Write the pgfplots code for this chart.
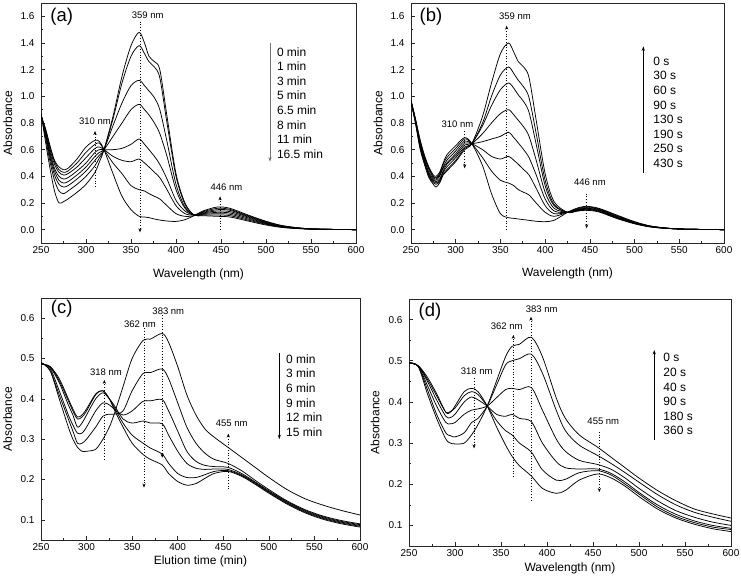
\documentclass[border=0pt]{standalone}
\usepackage{fontspec}
\setmainfont{Liberation Sans}
\usepackage{pgfplots}
\usepackage{pgfplotstable}
\pgfplotsset{compat=1.18}
\usetikzlibrary{arrows.meta}

\pgfplotstableread{
x c0 c1 c2 c3 c4 c5 c6 c7
250 0.87 0.87 0.865 0.865 0.86 0.86 0.855 0.855
255 0.66 0.69 0.71 0.72 0.73 0.74 0.75 0.76
260 0.46 0.51 0.54 0.56 0.58 0.60 0.62 0.63
265 0.29 0.37 0.41 0.44 0.46 0.49 0.51 0.52
270 0.20 0.29 0.34 0.37 0.40 0.43 0.45 0.47
275 0.21 0.27 0.32 0.35 0.38 0.41 0.43 0.45
280 0.23 0.29 0.33 0.36 0.39 0.42 0.44 0.46
290 0.28 0.34 0.38 0.41 0.44 0.47 0.50 0.53
300 0.34 0.40 0.44 0.47 0.50 0.54 0.58 0.62
310 0.43 0.48 0.52 0.55 0.58 0.61 0.64 0.67
315 0.51 0.54 0.56 0.58 0.60 0.62 0.65 0.66
320 0.60 0.60 0.60 0.60 0.60 0.60 0.60 0.60
330 0.85 0.83 0.78 0.70 0.60 0.55 0.50 0.42
340 1.15 1.10 0.95 0.80 0.61 0.52 0.42 0.25
350 1.38 1.30 1.08 0.90 0.64 0.51 0.33 0.15
359 1.48 1.38 1.12 0.94 0.68 0.53 0.30 0.10
365 1.40 1.32 1.08 0.90 0.64 0.50 0.29 0.095
370 1.30 1.26 1.04 0.86 0.60 0.47 0.27 0.09
376 1.26 1.22 0.99 0.80 0.55 0.43 0.25 0.08
382 1.20 1.14 0.90 0.72 0.49 0.39 0.23 0.072
390 0.85 0.80 0.66 0.55 0.38 0.30 0.18 0.065
400 0.42 0.40 0.34 0.30 0.22 0.18 0.12 0.062
410 0.20 0.19 0.17 0.16 0.14 0.12 0.10 0.075
420 0.11 0.11 0.11 0.11 0.11 0.11 0.105 0.105
430 0.105 0.11 0.115 0.12 0.125 0.13 0.135 0.14
446 0.10 0.11 0.12 0.13 0.14 0.15 0.16 0.17
460 0.095 0.105 0.115 0.125 0.135 0.145 0.152 0.16
480 0.065 0.072 0.08 0.088 0.095 0.10 0.105 0.11
500 0.035 0.04 0.044 0.048 0.052 0.056 0.06 0.063
520 0.015 0.017 0.019 0.021 0.023 0.025 0.027 0.028
550 0.004 0.004 0.005 0.005 0.005 0.006 0.006 0.006
600 0 0 0 0 0 0 0 0
}\tabA

\pgfplotstableread{
x c0 c1 c2 c3 c4 c5 c6 c7
250 0.97 0.97 0.965 0.965 0.96 0.96 0.955 0.955
255 0.83 0.83 0.82 0.82 0.81 0.81 0.80 0.80
260 0.68 0.67 0.66 0.65 0.64 0.63 0.62 0.61
265 0.56 0.55 0.54 0.53 0.52 0.51 0.50 0.49
270 0.47 0.46 0.45 0.43 0.42 0.41 0.40 0.39
275 0.41 0.40 0.39 0.38 0.37 0.36 0.35 0.34
278 0.40 0.39 0.38 0.37 0.36 0.35 0.34 0.32
282 0.43 0.42 0.41 0.40 0.38 0.37 0.36 0.35
286 0.50 0.49 0.47 0.46 0.44 0.43 0.42 0.41
290 0.56 0.54 0.52 0.50 0.49 0.47 0.45 0.44
300 0.63 0.61 0.59 0.57 0.555 0.54 0.52 0.51
310 0.69 0.68 0.665 0.65 0.635 0.62 0.61 0.60
318 0.645 0.645 0.645 0.645 0.645 0.645 0.645 0.645
330 0.48 0.54 0.60 0.66 0.72 0.78 0.80 0.85
340 0.27 0.44 0.55 0.68 0.80 0.93 1.00 1.10
350 0.12 0.37 0.53 0.70 0.87 1.05 1.16 1.32
359 0.09 0.35 0.55 0.73 0.90 1.10 1.22 1.40
365 0.085 0.33 0.52 0.69 0.86 1.06 1.17 1.33
370 0.08 0.30 0.49 0.65 0.82 1.01 1.12 1.26
376 0.075 0.28 0.45 0.60 0.77 0.96 1.07 1.22
382 0.07 0.26 0.41 0.54 0.70 0.88 0.99 1.14
390 0.063 0.20 0.31 0.41 0.52 0.64 0.72 0.82
400 0.06 0.13 0.18 0.23 0.28 0.33 0.37 0.42
410 0.07 0.10 0.12 0.14 0.16 0.18 0.19 0.21
425 0.13 0.13 0.13 0.13 0.13 0.13 0.13 0.13
435 0.16 0.155 0.15 0.148 0.145 0.143 0.14 0.138
446 0.175 0.17 0.165 0.16 0.157 0.153 0.15 0.145
460 0.16 0.156 0.152 0.148 0.144 0.14 0.137 0.133
480 0.11 0.105 0.10 0.097 0.094 0.09 0.087 0.084
500 0.06 0.057 0.054 0.052 0.05 0.048 0.046 0.044
520 0.025 0.024 0.023 0.022 0.021 0.02 0.019 0.018
550 0.005 0.005 0.005 0.005 0.005 0.005 0.005 0.005
600 0 0 0 0 0 0 0 0
}\tabB

\pgfplotstableread{
x c0 c1 c2 c3 c4 c5
250 0.49 0.49 0.488 0.488 0.486 0.486
260 0.47 0.47 0.475 0.478 0.48 0.48
270 0.40 0.41 0.42 0.44 0.445 0.45
280 0.33 0.35 0.36 0.385 0.395 0.40
285 0.30 0.32 0.335 0.36 0.37 0.375
290 0.28 0.29 0.315 0.33 0.35 0.355
295 0.27 0.29 0.315 0.34 0.355 0.36
300 0.27 0.30 0.33 0.36 0.37 0.375
310 0.275 0.33 0.37 0.40 0.41 0.412
318 0.30 0.357 0.39 0.415 0.42 0.42
325 0.33 0.362 0.385 0.40 0.40 0.40
330 0.36 0.362 0.375 0.385 0.38 0.375
340 0.43 0.37 0.36 0.35 0.34 0.33
350 0.50 0.42 0.37 0.34 0.31 0.29
362 0.545 0.463 0.394 0.345 0.29 0.262
370 0.548 0.465 0.395 0.34 0.278 0.25
383 0.562 0.474 0.398 0.338 0.263 0.236
390 0.54 0.45 0.37 0.31 0.24 0.215
400 0.48 0.39 0.32 0.27 0.215 0.195
410 0.41 0.33 0.27 0.24 0.205 0.186
420 0.36 0.29 0.245 0.228 0.205 0.19
430 0.325 0.265 0.235 0.225 0.212 0.203
440 0.305 0.25 0.232 0.226 0.22 0.215
455 0.28 0.24 0.23 0.225 0.222 0.22
470 0.255 0.222 0.215 0.212 0.21 0.208
485 0.23 0.198 0.194 0.192 0.19 0.188
500 0.205 0.175 0.172 0.17 0.168 0.166
520 0.175 0.147 0.145 0.143 0.141 0.139
540 0.152 0.125 0.123 0.121 0.119 0.117
560 0.136 0.109 0.107 0.105 0.103 0.101
580 0.123 0.098 0.096 0.094 0.092 0.09
600 0.112 0.09 0.088 0.086 0.084 0.082
}\tabC

\pgfplotstableread{
x c0 c1 c2 c3 c4 c5
250 0.495 0.495 0.495 0.495 0.495 0.495
260 0.488 0.488 0.487 0.487 0.486 0.486
270 0.46 0.455 0.45 0.44 0.43 0.42
280 0.42 0.415 0.405 0.39 0.37 0.36
290 0.375 0.375 0.365 0.35 0.325 0.31
295 0.375 0.377 0.362 0.347 0.318 0.30
300 0.39 0.385 0.37 0.35 0.315 0.298
310 0.425 0.415 0.40 0.37 0.325 0.30
318 0.433 0.425 0.412 0.38 0.35 0.32
325 0.425 0.418 0.405 0.383 0.36 0.345
335 0.39 0.39 0.39 0.39 0.39 0.39
345 0.34 0.355 0.37 0.41 0.44 0.45
355 0.295 0.33 0.365 0.43 0.49 0.51
362 0.268 0.32 0.37 0.433 0.50 0.535
370 0.245 0.30 0.36 0.43 0.505 0.54
383 0.22 0.278 0.352 0.435 0.516 0.557
395 0.19 0.235 0.30 0.38 0.47 0.51
410 0.178 0.21 0.255 0.31 0.38 0.41
420 0.185 0.212 0.24 0.28 0.33 0.36
435 0.21 0.228 0.237 0.258 0.295 0.32
455 0.225 0.233 0.237 0.248 0.27 0.29
470 0.215 0.222 0.226 0.236 0.25 0.265
485 0.195 0.20 0.205 0.215 0.228 0.24
500 0.17 0.176 0.18 0.19 0.205 0.215
520 0.14 0.145 0.15 0.16 0.175 0.185
540 0.118 0.122 0.127 0.136 0.15 0.16
560 0.103 0.107 0.111 0.12 0.132 0.14
580 0.092 0.096 0.10 0.108 0.12 0.128
600 0.085 0.09 0.093 0.10 0.11 0.118
}\tabD

\pgfplotsset{
  panel/.style={
    scale only axis, anchor=south west,
    xmin=250, xmax=600, xtick={250,300,350,400,450,500,550,600},
    minor x tick num=1, minor y tick num=1,
    tick align=inside, xtick pos=bottom, ytick pos=left,
    major tick length=4pt, minor tick length=2.2pt,
    every tick/.style={black!85, line width=0.6pt},
    axis line style={black!85, line width=0.8pt},
    /pgf/number format/assume math mode=true,
    ticklabel style={font=\fontsize{10}{11}\selectfont},
    yticklabel style={/pgf/number format/.cd, fixed, fixed zerofill, precision=1, /tikz/.cd, xshift=-3pt},
    label style={font=\fontsize{12}{14}\selectfont},
    ylabel=Absorbance,
    ylabel style={at={(axis description cs:-0.105,0.5)}, anchor=center},
  },
  curve/.style={black, line width=0.75pt, smooth, mark=none},
}
\tikzset{
  ann/.style={font=\fontsize{9.5}{10}\selectfont, inner sep=0pt},
  dt/.style={dotted, line width=0.75pt, -{Stealth[length=4pt,width=3.2pt]}},
  lg/.style={line width=0.75pt, -{Stealth[length=4.5pt,width=3.2pt]}},
  lgt/.style={anchor=north west, align=left, inner sep=0pt, font=\fontsize{12}{14.6}\selectfont},
  pl/.style={font=\fontsize{18.5}{19}\selectfont, inner sep=0pt},
}

\begin{document}
\begin{tikzpicture}
\useasboundingbox (0,0) rectangle (741pt,585pt);

% (a)
\begin{axis}[panel, at={(41pt,342pt)}, width=315pt, height=240pt,
  ymin=-0.1, ymax=1.7, ytick={0,0.2,0.4,0.6,0.8,1.0,1.2,1.4,1.6},
  xlabel={Wavelength (nm)},
  xlabel style={at={(axis description cs:0.5,-0.129)}, anchor=center}]
\pgfplotsinvokeforeach{0,...,7}{\addplot[curve] table[x=x,y=c#1]{\tabA};}
\node[pl] at (axis cs:273,1.60) {(a)};
\node[ann] at (axis cs:368.5,1.61) {359 nm};
\draw[dt] (axis cs:360,1.56) -- (axis cs:360,-0.02);
\node[ann] at (axis cs:310,0.815) {310 nm};
\draw[dt] (axis cs:310,0.32) -- (axis cs:310,0.74);
\node[ann] at (axis cs:456,0.315) {446 nm};
\draw[dt] (axis cs:449,0.0) -- (axis cs:449,0.25);
\draw[lg, black!55] (axis cs:504.4,1.40) -- (axis cs:504.4,0.51);
\node[lgt] at (axis cs:512,1.368) {0 min\\1 min\\3 min\\5 min\\6.5 min\\8 min\\11 min\\16.5 min};
\end{axis}

% (b)
\begin{axis}[panel, at={(411pt,342pt)}, width=313pt, height=240pt,
  ymin=-0.1, ymax=1.7, ytick={0,0.2,0.4,0.6,0.8,1.0,1.2,1.4,1.6},
  xlabel={Wavelength (nm)},
  xlabel style={at={(axis description cs:0.5,-0.125)}, anchor=center}]
\pgfplotsinvokeforeach{0,...,7}{\addplot[curve] table[x=x,y=c#1]{\tabB};}
\node[pl] at (axis cs:272.4,1.60) {(b)};
\node[ann] at (axis cs:366.3,1.60) {359 nm};
\draw[dt] (axis cs:357,0.0) -- (axis cs:357,1.53);
\node[ann] at (axis cs:302,0.79) {310 nm};
\draw[dt] (axis cs:310,0.737) -- (axis cs:310,0.46);
\node[ann] at (axis cs:450,0.355) {446 nm};
\draw[dt] (axis cs:446.4,0.27) -- (axis cs:446.4,0.01);
\draw[lg] (axis cs:509.8,0.425) -- (axis cs:509.8,1.375);
\node[lgt] at (axis cs:520.9,1.297) {0 s\\30 s\\60 s\\90 s\\130 s\\190 s\\250 s\\430 s};
\end{axis}

% (c)
\begin{axis}[panel, at={(41pt,45pt)}, width=319pt, height=242pt,
  ymin=0.05, ymax=0.65, ytick={0.1,0.2,0.3,0.4,0.5,0.6},
  xlabel={Elution time (min)},
  xlabel style={at={(axis description cs:0.5,-0.09)}, anchor=center}]
\pgfplotsinvokeforeach{0,...,5}{\addplot[curve] table[x=x,y=c#1]{\tabC};}
\node[pl] at (axis cs:272.7,0.624) {(c)};
\node[ann] at (axis cs:389.7,0.618) {383 nm};
\draw[dt] (axis cs:383,0.607) -- (axis cs:383,0.254);
\node[ann] at (axis cs:358.6,0.585) {362 nm};
\draw[dt] (axis cs:363,0.575) -- (axis cs:363,0.18);
\node[ann] at (axis cs:321.3,0.465) {318 nm};
\draw[dt] (axis cs:319.5,0.25) -- (axis cs:319.5,0.447);
\node[ann] at (axis cs:459.2,0.339) {455 nm};
\draw[dt] (axis cs:455.5,0.176) -- (axis cs:455.5,0.314);
\draw[lg] (axis cs:511.5,0.513) -- (axis cs:511.5,0.30);
\node[lgt] at (axis cs:518.8,0.510) {0 min\\3 min\\6 min\\9 min\\12 min\\15 min};
\end{axis}

% (d)
\begin{axis}[panel, at={(409pt,39pt)}, width=322pt, height=247pt,
  ymin=0.05, ymax=0.65, ytick={0.1,0.2,0.3,0.4,0.5,0.6},
  xlabel={Wavelength (nm)},
  xlabel style={at={(axis description cs:0.5,-0.089)}, anchor=center}]
\pgfplotsinvokeforeach{0,...,5}{\addplot[curve] table[x=x,y=c#1]{\tabD};}
\node[pl] at (axis cs:272.8,0.619) {(d)};
\node[ann] at (axis cs:394.2,0.624) {383 nm};
\draw[dt] (axis cs:382.6,0.161) -- (axis cs:382.6,0.607);
\node[ann] at (axis cs:356.2,0.583) {362 nm};
\draw[dt] (axis cs:363.4,0.218) -- (axis cs:363.4,0.563);
\node[ann] at (axis cs:323.6,0.475) {318 nm};
\draw[dt] (axis cs:320.7,0.457) -- (axis cs:320.7,0.287);
\node[ann] at (axis cs:461.2,0.352) {455 nm};
\draw[dt] (axis cs:456.9,0.327) -- (axis cs:456.9,0.181);
\draw[lg] (axis cs:516.6,0.307) -- (axis cs:516.6,0.526);
\node[lgt] at (axis cs:526.4,0.518) {0 s\\20 s\\40 s\\90 s\\180 s\\360 s};
\end{axis}
\end{tikzpicture}
\end{document}
